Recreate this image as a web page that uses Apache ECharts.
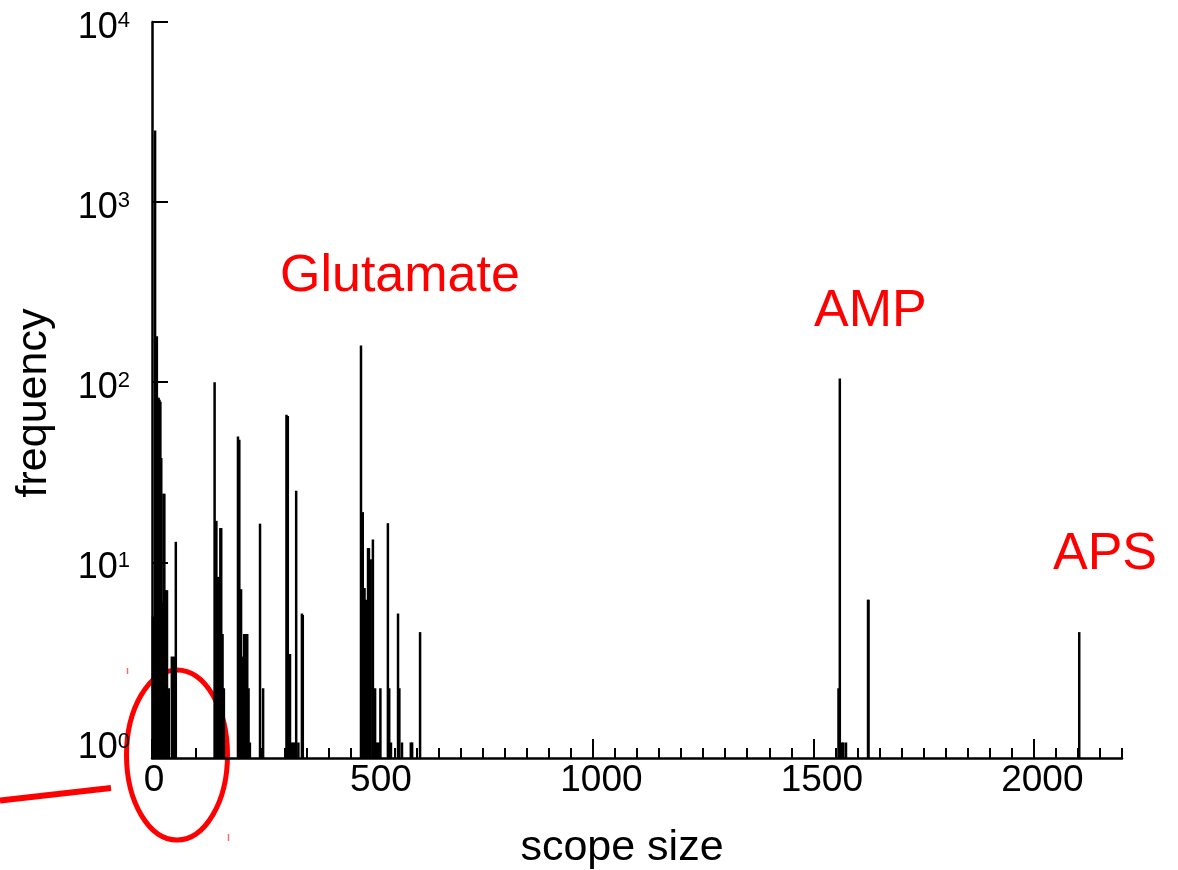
<!DOCTYPE html>
<html>
<head>
<meta charset="utf-8">
<script src="https://cdn.jsdelivr.net/npm/echarts@6/dist/echarts.min.js"></script>
<style>
html,body{margin:0;padding:0;background:#ffffff;}
#chart{width:1178px;height:870px;}
</style>
</head>
<body>
<div id="chart"></div>
<script>
// ---- data ----
const scopeSizes = [
  2, 7, 11, 13, 15, 17, 19, 21, 23, 26, 28, 30, 32, 34, 38, 45, 50, 54,
  142, 146, 150, 152, 155, 157, 160, 163,
  195, 198, 202, 206, 209, 212, 216, 219, 222,
  245, 252,
  305, 308, 313, 318, 322, 327, 332, 340, 342,
  474, 478, 482, 485, 490, 492, 496, 501, 506, 510, 514, 518, 535, 538, 542, 558, 561, 567, 587, 590, 608,
  1557, 1560, 1565, 1568, 1574, 1624, 1625,
  2103
];
const frequencies = [
  5, 2500, 180, 82, 82, 80, 78, 38, 6, 24, 24, 7, 7, 7, 2, 3, 3, 13,
  100, 17, 8.3, 8.3, 15.5, 15.5, 4, 2,
  50, 48, 7.1, 3, 4, 4, 4, 2, 1,
  16.4, 2,
  66, 65, 3.1, 1, 1, 25, 1, 5.2, 5.1,
  160, 19, 7.2, 6.2, 12, 12, 10.4, 13.4, 2, 1, 1, 2, 16.5, 2, 1, 5.2, 2, 1, 1, 1, 4.1,
  2, 105, 1, 1, 1, 6.2, 6.2,
  4.1
];
const xTickValues = [0, 500, 1000, 1500, 2000];
const yTickValues = [1, 10, 100, 1000, 10000];
const annotationLabels = ['Glutamate', 'AMP', 'APS'];
const xAxisTitle = 'scope size';
const yAxisTitle = 'frequency';

const X_MIN = 0, X_MAX = 2200, X_MINOR = 50;
const Y_MIN = 0.82, Y_MAX = 10000;
const FONT = '"Liberation Sans", Arial, sans-serif';

const chart = echarts.init(document.getElementById('chart'), null, {renderer: 'canvas'});

const points = scopeSizes.map((s, i) => [s, frequencies[i]]);

const option = {
  backgroundColor: '#ffffff',
  animation: false,
  grid: {left: 152, right: 56, top: 22, bottom: 112, containLabel: false, outerBoundsMode: 'none'},
  xAxis: [
    {
      type: 'value', min: X_MIN, max: X_MAX, interval: 500, position: 'bottom',
      axisLine: {show: true, onZero: false, lineStyle: {color: '#000', width: 2.5}},
      axisTick: {show: true, inside: true, length: 19, customValues: xTickValues, lineStyle: {color: '#000', width: 2}},
      axisLabel: {
        customValues: xTickValues, color: '#000', fontFamily: FONT, margin: 4,
        formatter: v => {
          const s = String(Math.round(v));
          return s.length > 1 ? '{n|' + s + '}' : '{z|' + s + '}';
        },
        rich: {
          n: {fontSize: 37, fontFamily: FONT, color: '#000', padding: [0, 0, 0, 17]},
          z: {fontSize: 37, fontFamily: FONT, color: '#000', padding: [0, 0, 0, 4]}
        }
      },
      splitLine: {show: false},
      name: xAxisTitle, nameLocation: 'middle', nameGap: 69,
      nameTextStyle: {fontSize: 43, color: '#000', fontFamily: FONT, padding: [0, 30, 0, 0]}
    },
    {
      type: 'value', min: X_MIN, max: X_MAX, interval: X_MINOR, position: 'bottom',
      axisLine: {show: false, onZero: false},
      axisTick: {show: true, inside: true, length: 10, lineStyle: {color: '#000', width: 2}},
      axisLabel: {show: false},
      splitLine: {show: false}
    }
  ],
  yAxis: {
    type: 'log', logBase: 10, min: Y_MIN, max: Y_MAX,
    axisLine: {show: true, onZero: false, lineStyle: {color: '#000', width: 2.5}},
    axisTick: {show: true, inside: true, length: 16, customValues: yTickValues, lineStyle: {color: '#000', width: 2}},
    axisLabel: {
      customValues: yTickValues, margin: 22, color: '#000', fontFamily: FONT,
      padding: [12, 0, 0, 0],
      formatter: v => '{b|10}{s|' + Math.round(Math.log10(v)) + '}',
      rich: {
        b: {fontSize: 36, fontFamily: FONT, color: '#000', lineHeight: 36},
        s: {fontSize: 22, fontFamily: FONT, color: '#000', lineHeight: 22, verticalAlign: 'top'}
      }
    },
    splitLine: {show: false},
    name: yAxisTitle, nameLocation: 'middle', nameGap: 96, nameRotate: 90,
    nameTextStyle: {fontSize: 43, color: '#000', fontFamily: FONT, padding: [0, 26, 0, 0]}
  },
  series: [{
    type: 'custom',
    xAxisIndex: 0, yAxisIndex: 0,
    z: 5,
    encode: {x: 0, y: 1},
    data: points,
    renderItem: function (params, api) {
      const x = api.value(0), y = api.value(1);
      const top = api.coord([x, y]);
      const base = api.coord([x, Y_MIN]);
      return {
        type: 'line',
        shape: {x1: top[0], y1: base[1], x2: top[0], y2: top[1]},
        style: {stroke: '#000', lineWidth: 2.5, lineCap: 'butt'}
      };
    }
  }],
  graphic: [
    {type: 'ellipse', z: 0, shape: {cx: 177, cy: 755, rx: 50.5, ry: 85},
     style: {fill: 'none', stroke: '#ff0000', lineWidth: 5}},
    {type: 'line', z: 0, shape: {x1: 0, y1: 800.5, x2: 111, y2: 788},
     style: {stroke: '#ff0000', lineWidth: 6}},
    {type: 'line', z: 0, shape: {x1: 127.5, y1: 668, x2: 127.5, y2: 674},
     style: {stroke: '#f07070', lineWidth: 1.5}},
    {type: 'line', z: 0, shape: {x1: 228.5, y1: 834, x2: 228.5, y2: 841},
     style: {stroke: '#f07070', lineWidth: 1.5}},
    {type: 'text', z: 10, x: 280, y: 277,
     style: {text: annotationLabels[0], fill: '#ff0000', fontSize: 52, fontFamily: FONT, align: 'left', verticalAlign: 'middle'}},
    {type: 'text', z: 10, x: 814, y: 312,
     style: {text: annotationLabels[1], fill: '#ff0000', fontSize: 52, fontFamily: FONT, align: 'left', verticalAlign: 'middle'}},
    {type: 'text', z: 10, x: 1053, y: 555,
     style: {text: annotationLabels[2], fill: '#ff0000', fontSize: 52, fontFamily: FONT, align: 'left', verticalAlign: 'middle'}}
  ]
};

chart.setOption(option);
</script>
</body>
</html>
